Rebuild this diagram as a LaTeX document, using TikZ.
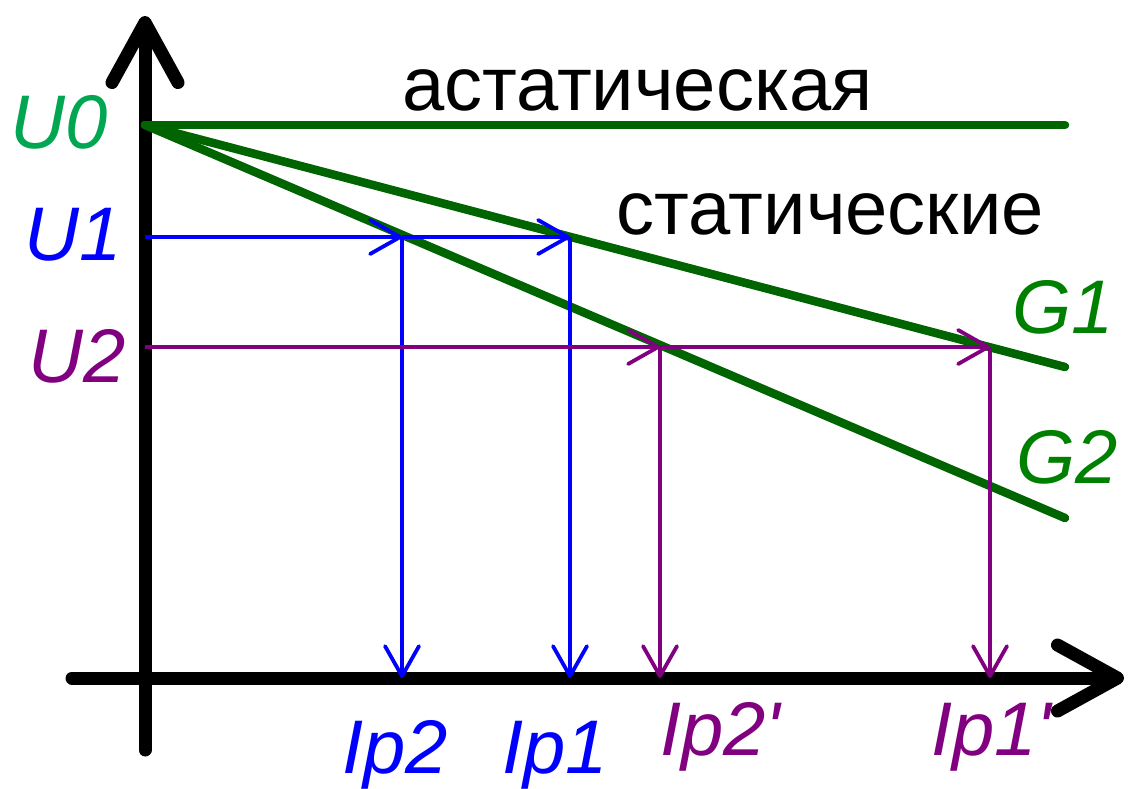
\documentclass[tikz,border=0pt]{standalone}
\usepackage{fontspec}
\setmainfont{Liberation Sans}
\usetikzlibrary{arrows.meta}
\definecolor{lineg}{RGB}{0,100,0}
\definecolor{textg}{RGB}{0,128,0}
\definecolor{u0g}{RGB}{0,166,81}
\definecolor{myblue}{RGB}{0,0,255}
\definecolor{mypurple}{RGB}{128,0,128}
\tikzset{
  axisline/.style={line width=13pt, line cap=round, black,
    -{Straight Barb[length=60pt,width=66pt,round]}},
  gline/.style={line width=8.5pt, line cap=round, lineg},
  thinarr/.style={line width=3.8pt, -{Straight Barb[length=30pt,width=34pt,round]}},
  barr/.style={thinarr, myblue},
  parr/.style={thinarr, mypurple},
  lbl/.style={inner sep=0pt, anchor=base west, font=\fontsize{76}{80}\selectfont},
  ilbl/.style={lbl, font=\fontsize{76}{80}\selectfont\itshape}
}
\begin{document}
\begin{tikzpicture}[x=1pt,y=-1pt]
\useasboundingbox (0,0) rectangle (1132,788);
% coordinates
\coordinate (ybot) at (145,750);
\coordinate (ytop) at (145,16);
\coordinate (xleft) at (72,678);
\coordinate (xright) at (1124,678);
\coordinate (u0) at (145,125);
\coordinate (aend) at (1065,125);
\coordinate (g1end) at (1065,367);
\coordinate (g2end) at (1065,518);
\coordinate (u1) at (145,237);
\coordinate (u2) at (145,347);
\coordinate (p21) at (402,237);
\coordinate (p11) at (570,237);
\coordinate (p22) at (660,347);
\coordinate (p12) at (990,347);
\coordinate (b21) at (402,678);
\coordinate (b11) at (570,678);
\coordinate (b22) at (660,678);
\coordinate (b12) at (990,678);
% axes
\draw[axisline] (ybot) -- (ytop);
\draw[axisline] (xleft) -- (xright);
% characteristics
\draw[gline] (u0) -- (aend);
\draw[gline] (u0) -- (g1end);
\draw[gline] (u0) -- (g2end);
% blue
\draw[barr] (u1) -- (p21);
\draw[barr] (p21) -- (p11);
\draw[barr] (p21) -- (b21);
\draw[barr] (p11) -- (b11);
% purple
\draw[parr] (u2) -- (p22);
\draw[parr] (p22) -- (p12);
\draw[parr] (p22) -- (b22);
\draw[parr] (p12) -- (b12);
% labels
\node[ilbl, text=u0g] (lu0) at (10,148) {U0};
\node[ilbl, text=myblue] (lu1) at (24,260) {U1};
\node[ilbl, text=mypurple] (lu2) at (28,382) {U2};
\node[lbl] (last) at (402,110) {астатическая};
\node[lbl] (lst) at (616,234) {статические};
\node[ilbl, text=textg] (lg1) at (1012,333) {G1};
\node[ilbl, text=textg] (lg2) at (1016,483) {G2};
\node[ilbl, text=myblue] (li2) at (342,773) {Ip2};
\node[ilbl, text=myblue] (li1) at (502,773) {Ip1};
\node[ilbl, text=mypurple] (li22) at (660,755) {Ip2\textquotesingle};
\node[ilbl, text=mypurple] (li12) at (931,755) {Ip1\textquotesingle};
\end{tikzpicture}
\end{document}
